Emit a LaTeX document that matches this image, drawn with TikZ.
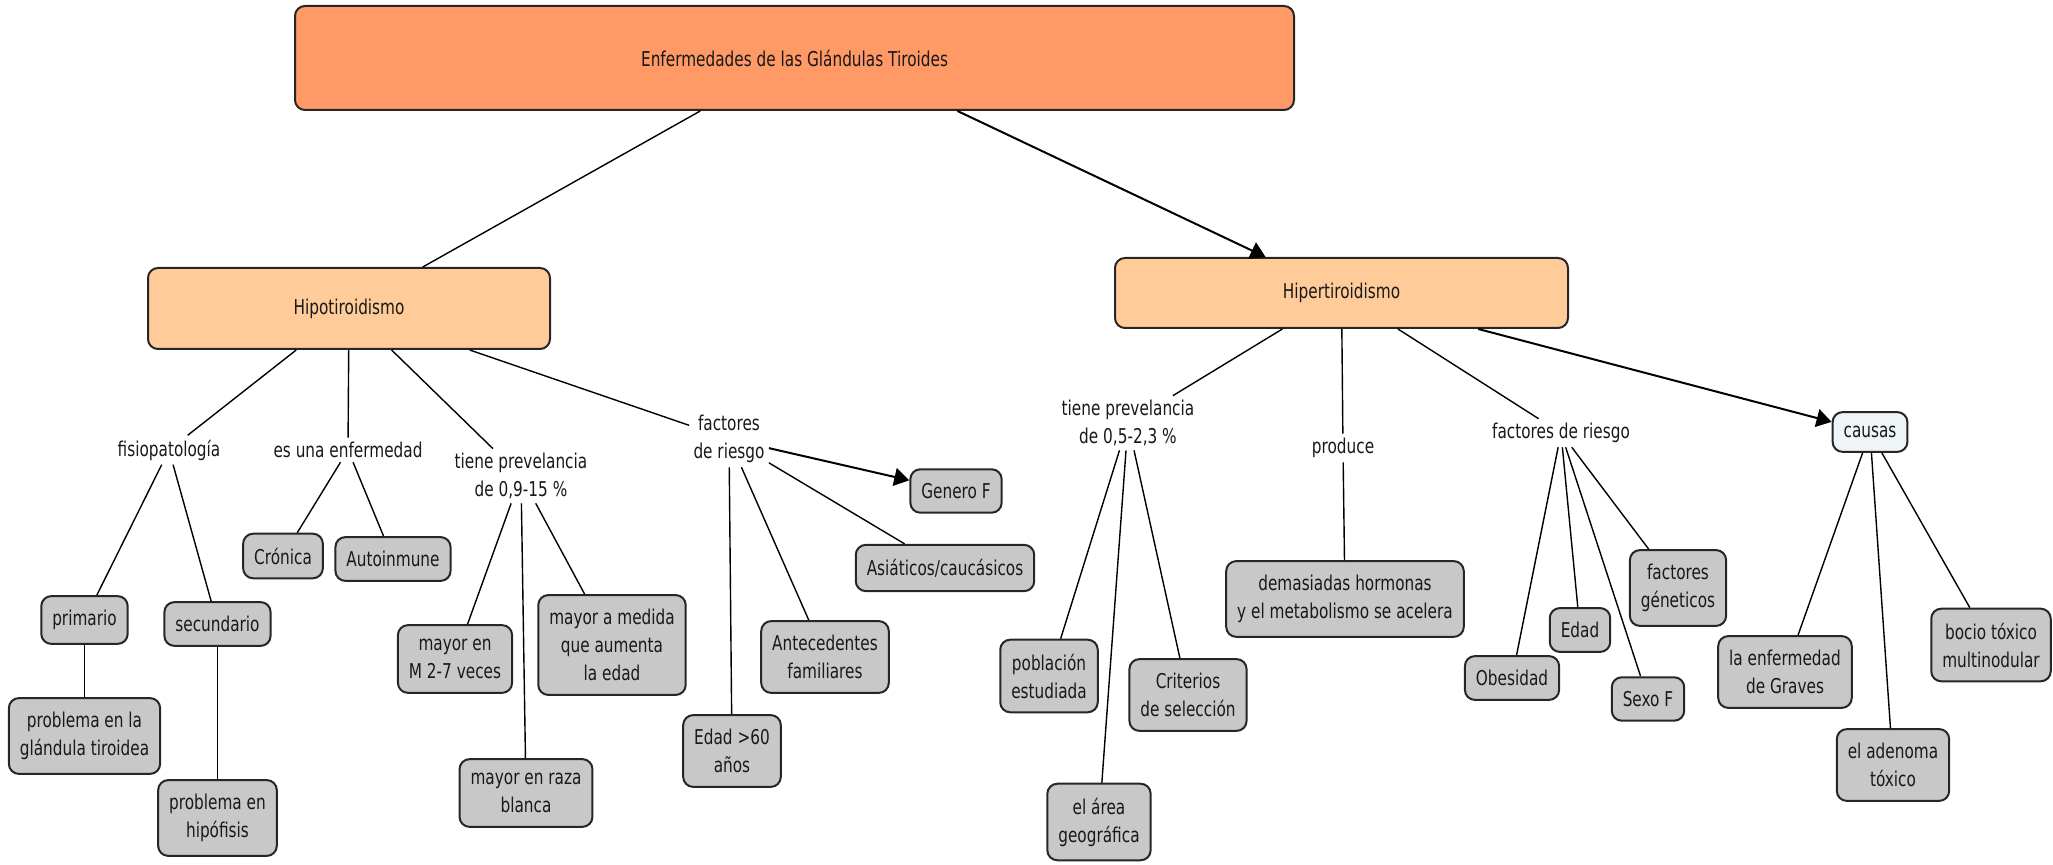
\documentclass[tikz,border=0pt]{standalone}
\usepackage{fontspec}
\setmainfont{DejaVu Sans}[FakeStretch=0.75]
\usepackage{tikz}
\usetikzlibrary{arrows.meta,calc}
\usepackage{xcolor}
\definecolor{rootorange}{RGB}{255,153,102}
\definecolor{lightorange}{RGB}{255,204,153}
\definecolor{boxgray}{RGB}{200,200,200}
\definecolor{paleblue}{RGB}{238,244,247}

\begin{document}
\begin{tikzpicture}[x=0.5pt,y=-0.5pt,
        every node/.style={font=\fontsize{10.2}{14}\selectfont, align=center, text=black!90},
        concept/.style={draw=black!85, line width=1pt, rounded corners=5pt, fill=boxgray, inner xsep=5.5pt, inner ysep=7pt},
        phrase/.style={inner sep=2pt},
        link/.style={line width=0.7pt},
        arrowlink/.style={line width=1pt, -{Triangle[length=7.5pt,width=9pt]}}]
        \useasboundingbox (0,0) rectangle (2053,865);

        \node[concept, fill=rootorange, minimum width=499.5pt, minimum height=52pt] (root) at (794.5,58) {Enfermedades de las Glándulas Tiroides};
        \node[concept, fill=lightorange, minimum width=201pt, minimum height=40.5pt] (hipo) at (349,308.5) {Hipotiroidismo};
        \node[concept, fill=lightorange, minimum width=226.5pt, minimum height=35pt] (hiper) at (1341.5,293) {Hipertiroidismo};

        \node[phrase] (fisio) at (169,450) {fisiopatología};
        \node[phrase] (enf) at (348,450) {es una enfermedad};
        \node[phrase] (prevhipo) at (521,476) {tiene prevelancia\\de 0,9-15 \%};
        \node[phrase] (riesgohipo) at (729,439) {factores\\de riesgo};

        \node[concept] (primario) at (84.5,620) {primario};
        \node[concept] (secundario) at (217.5,624) {secundario};
        \node[concept] (glandula) at (84.5,736) {problema en la\\glándula tiroidea};
        \node[concept] (hipofisis) at (217.5,818) {problema en\\hipófisis};
        \node[concept] (cronica) at (283,556) {Crónica};
        \node[concept] (autoinmune) at (393,559) {Autoinmune};
        \node[concept] (mayorm) at (455,659) {mayor en\\M 2-7 veces};
        \node[concept] (mayoredad) at (612,645) {mayor a medida\\que aumenta\\la edad};
        \node[concept] (mayorraza) at (526,793) {mayor en raza\\blanca};
        \node[concept] (edad60) at (732,751) {Edad >60\\años};
        \node[concept] (antecedentes) at (825,657) {Antecedentes\\familiares};
        \node[concept] (asiaticos) at (945,568) {Asiáticos/caucásicos};
        \node[concept] (genero) at (956,491) {Genero F};

        \node[phrase] (prevhiper) at (1128,423) {tiene prevelancia\\de 0,5-2,3 \%};
        \node[phrase] (produce) at (1343,448) {produce};
        \node[phrase] (riesgohiper) at (1561,433) {factores de riesgo};
        \node[concept, fill=paleblue] (causas) at (1870,432) {causas};

        \node[concept] (poblacion) at (1049,676) {población\\estudiada};
        \node[concept] (criterios) at (1188,695) {Criterios\\de selección};
        \node[concept] (area) at (1099,822) {el área\\geográfica};
        \node[concept] (hormonas) at (1345,599) {demasiadas hormonas\\y el metabolismo se acelera};
        \node[concept] (obesidad) at (1512,678) {Obesidad};
        \node[concept] (edad) at (1580,630) {Edad};
        \node[concept] (sexo) at (1648,699) {Sexo F};
        \node[concept] (geneticos) at (1678,588) {factores\\géneticos};
        \node[concept] (graves) at (1785,672) {la enfermedad\\de Graves};
        \node[concept] (adenoma) at (1893,765) {el adenoma\\tóxico};
        \node[concept] (bocio) at (1991,645) {bocio tóxico\\multinodular};

        \draw[link] (root) -- (hipo);
        \draw[arrowlink] ($(root.south)+(163,0)$) -- (hiper);

        \draw[link] (hipo) -- (fisio);
        \draw[link] (hipo) -- (enf);
        \draw[link] (hipo) -- (prevhipo);
        \draw[link] (hipo) -- (riesgohipo);
        \draw[link] (fisio) -- (primario);
        \draw[link] (fisio) -- (secundario);
        \draw[link] (primario) -- (glandula);
        \draw[link] (secundario) -- (hipofisis);
        \draw[link] (enf) -- (cronica);
        \draw[link] (enf) -- (autoinmune);
        \draw[link] (prevhipo) -- (mayorm);
        \draw[link] (prevhipo) -- (mayorraza);
        \draw[link] (prevhipo) -- (mayoredad);
        \draw[link] (riesgohipo) -- (edad60);
        \draw[link] (riesgohipo) -- (antecedentes);
        \draw[link] (riesgohipo) -- (asiaticos);
        \draw[arrowlink] (riesgohipo) -- (genero);

        \draw[link] (hiper) -- (prevhiper);
        \draw[link] (hiper) -- (produce);
        \draw[link] (hiper) -- (riesgohiper);
        \draw[arrowlink] (hiper) -- (causas);
        \draw[link] (prevhiper) -- (poblacion);
        \draw[link] (prevhiper) -- (area);
        \draw[link] (prevhiper) -- (criterios);
        \draw[link] (produce) -- (hormonas);
        \draw[link] (riesgohiper) -- (obesidad);
        \draw[link] (riesgohiper) -- (edad);
        \draw[link] (riesgohiper) -- (sexo);
        \draw[link] (riesgohiper) -- (geneticos);
        \draw[link] (causas) -- (graves);
        \draw[link] (causas) -- (adenoma);
        \draw[link] (causas) -- (bocio);
    \end{tikzpicture}
\end{document}
